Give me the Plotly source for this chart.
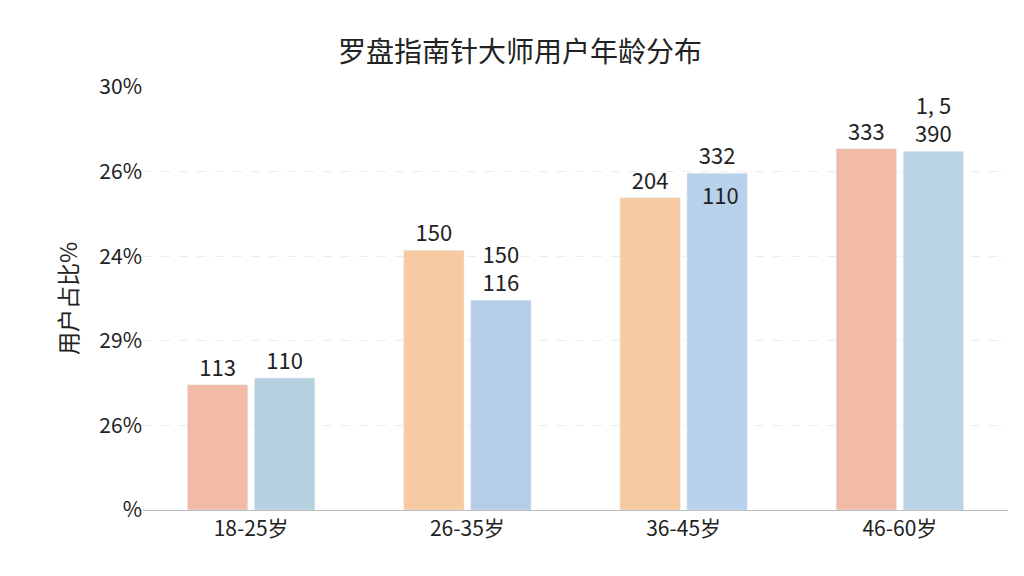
import plotly.graph_objects as go

categories = ["18-25岁", "26-35岁", "36-45岁", "46-60岁"]
series_a = [1.48, 3.07, 3.69, 4.27]
series_b = [1.56, 2.48, 3.98, 4.24]
labels_a = ["113", "150", "204", "333"]
labels_b = ["110", "150<br>116", "332", "1, 5<br>390"]
tick_vals = [0, 1, 2, 3, 4, 5]
tick_text = ["%", "26%", "29%", "24%", "26%", "30%"]

colors_a = ["#f2bba8", "#f7caa2", "#f7caa2", "#f2bba8"]
colors_b = ["#b7d0df", "#b5cde9", "#b7d2ea", "#bad4e6"]

fig = go.Figure()
fig.add_trace(go.Bar(x=categories, y=series_a, marker_color=colors_a, text=labels_a,
                     textposition="outside", cliponaxis=False,
                     textfont=dict(size=22, color="#222")))
fig.add_trace(go.Bar(x=categories, y=series_b, marker_color=colors_b, text=labels_b,
                     textposition="outside", cliponaxis=False,
                     textfont=dict(size=22, color="#222")))
# stray label drawn inside the 36-45 blue bar
fig.add_annotation(x=categories[2], y=series_b[2] - 0.25, xshift=37, text="110",
                   showarrow=False, font=dict(size=22, color="#222"))

fig.update_layout(
    width=1024, height=576, plot_bgcolor="white", paper_bgcolor="white",
    font=dict(family="Noto Sans CJK SC", color="#222"),
    title=dict(text="罗盘指南针大师用户年龄分布", x=0.5, y=0.94, font=dict(size=28)),
    margin=dict(l=135, r=24, t=79, b=74), showlegend=False,
    bargap=0.38, bargroupgap=0.1,
    yaxis=dict(range=[0, 5], tickvals=tick_vals, ticktext=tick_text, tickfont=dict(size=21),
               showgrid=True, gridcolor="#ececec", griddash="dash", zeroline=False,
               title=dict(text="用户占比%", font=dict(size=23)), ticks="", ticklen=8),
    xaxis=dict(tickfont=dict(size=21), showline=True, linecolor="#bbb", ticks=""),
)
fig.write_html("out.html")
